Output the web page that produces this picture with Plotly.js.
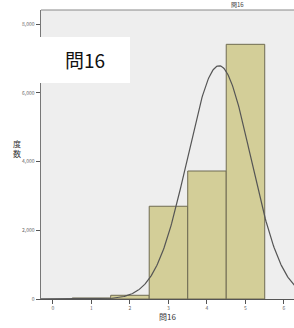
<!DOCTYPE html>
<html><head><meta charset="utf-8">
<script src="https://cdn.plot.ly/plotly-3.0.1.min.js"></script>
<style>body{margin:0;background:#fff}#c{width:294px;height:328px}</style>
</head><body><div id="c"></div>
<script>
// Histogram data (bin centres and counts)
var binCenters = [1, 2, 3, 4, 5];
var counts = [30, 108, 2700, 3726, 7414];
var xTicks = [0, 1, 2, 3, 4, 5, 6];
var yTicks = [0, 2000, 4000, 6000, 8000];
var yTickText = ['0', '2,000', '4,000', '6,000', '8,000'];
var titleText = '問16';
var yTitle = '度数';

// fitted normal curve from histogram moments
var N = counts.reduce(function(a,b){return a+b;},0);
var mean = 0, m2 = 0;
for (var i=0;i<counts.length;i++){mean += counts[i]*binCenters[i];}
mean /= N;
for (var i=0;i<counts.length;i++){m2 += counts[i]*Math.pow(binCenters[i]-mean,2);}
var sd = Math.sqrt(m2/N);
var cx = [], cy = [];
for (var k=0;k<=400;k++){
  var x = -0.4 + k*(7.0/400);
  cx.push(x);
  cy.push(N*1/(sd*Math.sqrt(2*Math.PI))*Math.exp(-0.5*Math.pow((x-mean)/sd,2)));
}

var CJK = "'Noto Sans CJK JP'";
var traces = [
  {type:'bar', x:binCenters, y:counts, width:1,
   marker:{color:'#D3CE98', line:{color:'#6F6B52', width:1}}, hoverinfo:'none'},
  {type:'scatter', mode:'lines', x:cx, y:cy, line:{color:'#555555', width:1.2}, hoverinfo:'none'}
];

var layout = {
  width:294, height:328,
  margin:{l:41, r:0, t:10, b:29},
  paper_bgcolor:'#ffffff', plot_bgcolor:'#EEEEEE',
  showlegend:false, bargap:0,
  font:{family:CJK, color:'#444'},
  xaxis:{range:[-0.31, 6.26], tickvals:xTicks, ticktext:xTicks.map(String),
    ticks:'outside', ticklen:4, tickcolor:'#555', tickfont:{size:5, color:'#666'},
    showgrid:false, zeroline:false, showline:true, linecolor:'#555', linewidth:1,
    title:{text:titleText, font:{size:8, color:'#333', family:CJK}, standoff:4}},
  yaxis:{range:[0, 8413], tickvals:yTicks, ticktext:yTickText,
    ticks:'outside', ticklen:4, tickcolor:'#555', tickfont:{size:5, color:'#666'},
    showgrid:false, zeroline:false, showline:true, linecolor:'#777', linewidth:1.5,
    mirror:false},
  shapes:[
    {type:'line', xref:'paper', yref:'paper', x0:0, x1:1, y0:1, y1:1, line:{color:'#888', width:1}},
    {type:'rect', xref:'paper', yref:'paper', x0:-0.004, x1:0.352, y0:0.747, y1:0.9066, fillcolor:'#ffffff', line:{width:0}, layer:'above'}
  ],
  annotations:[
    {xref:'paper', yref:'paper', x:0.174, y:0.827, xanchor:'center', yanchor:'middle', text:titleText, showarrow:false,
     font:{size:19, color:'#111', family:CJK}},
    {xref:'paper', yref:'paper', x:-0.12, y:0.52, text:'度<br>数', showarrow:false,
     font:{size:8, color:'#333', family:CJK}},
    {xref:'paper', yref:'paper', x:0.81, y:1.0, yanchor:'bottom', yshift:-1, text:titleText, showarrow:false,
     font:{size:6, color:'#444', family:CJK}}
  ]
};
Plotly.newPlot('c', traces, layout, {staticPlot:true, displayModeBar:false});
</script></body></html>
